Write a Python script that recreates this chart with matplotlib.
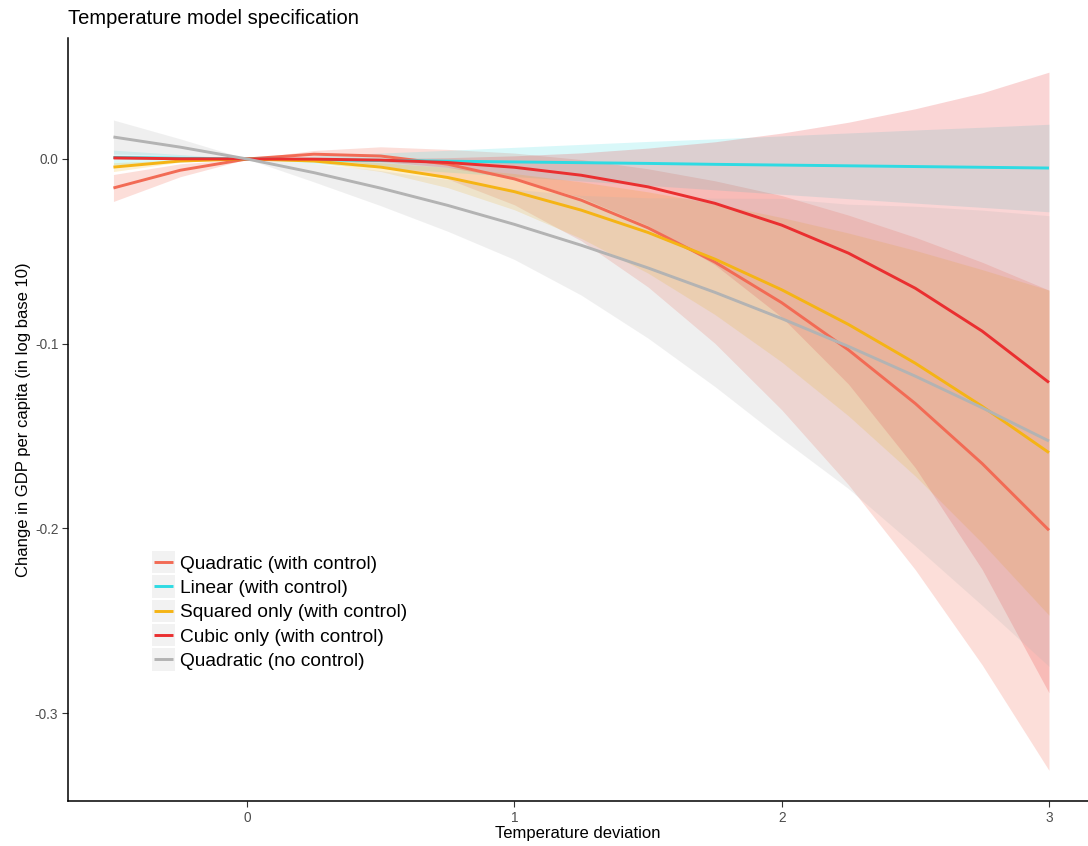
import matplotlib
matplotlib.use("Agg")
import matplotlib.pyplot as plt
from matplotlib.legend_handler import HandlerBase
from matplotlib.patches import Rectangle
from matplotlib.lines import Line2D
import numpy as np

plt.rcParams['font.family'] = ['Liberation Sans', 'DejaVu Sans']

x = [-0.5, -0.25, 0, 0.25, 0.5, 0.75, 1, 1.25, 1.5, 1.75, 2, 2.25, 2.5, 2.75, 3]

quad_ctrl = [-0.0157, -0.0061, 0, 0.0026, 0.0016, -0.0028, -0.0108, -0.0223, -0.0373,
             -0.0558, -0.0778, -0.1034, -0.1324, -0.1649, -0.201]
quad_ctrl_se = [0.0073, 0.0035, 0, 0.002, 0.005, 0.008, 0.014, 0.022, 0.032, 0.044,
                0.058, 0.073, 0.09, 0.109, 0.13]

linear = [0.0008, 0.0004, 0, -0.0004, -0.0008, -0.0012, -0.0016, -0.002, -0.0024,
          -0.0029, -0.0033, -0.0037, -0.0041, -0.0045, -0.0049]
linear_se = [0.004, 0.002, 0, 0.002, 0.004, 0.0059, 0.0079, 0.0099, 0.0119, 0.0138,
             0.0158, 0.0178, 0.0198, 0.0217, 0.0237]

squared = [-0.0044, -0.0011, 0, -0.0011, -0.0044, -0.0100, -0.0177, -0.0277, -0.0398,
           -0.0542, -0.0708, -0.0896, -0.1106, -0.1339, -0.159]
squared_se = [0.0024, 0.0006, 0, 0.0006, 0.0024, 0.0055, 0.0098, 0.0153, 0.022, 0.030,
              0.0391, 0.0495, 0.0611, 0.074, 0.088]

cubic = [0.0006, 0.0001, 0, -0.0001, -0.0006, -0.0019, -0.0045, -0.0088, -0.0151,
         -0.0240, -0.0358, -0.0510, -0.0700, -0.0932, -0.121]
cubic_se = [0.0008, 0.0001, 0, 0.0001, 0.0008, 0.0026, 0.0062, 0.0121, 0.021, 0.0333,
            0.0498, 0.0709, 0.0972, 0.129, 0.168]

quad_noctrl = [0.0119, 0.0064, 0, -0.0074, -0.0158, -0.0251, -0.0354, -0.0467, -0.0590,
               -0.0722, -0.0864, -0.1015, -0.1176, -0.1347, -0.1527]
quad_noctrl_se = [0.0092, 0.0045, 0, 0.005, 0.0095, 0.014, 0.019, 0.027, 0.038, 0.051,
                  0.065, 0.077, 0.092, 0.107, 0.122]

labels = ["Quadratic (with control)", "Linear (with control)", "Squared only (with control)",
          "Cubic only (with control)", "Quadratic (no control)"]
colors = ["#F26B55", "#2EDBE3", "#F5B415", "#EA2F30", "#B3B3B3"]
series = [quad_ctrl, linear, squared, cubic, quad_noctrl]
ses = [quad_ctrl_se, linear_se, squared_se, cubic_se, quad_noctrl_se]
fill_alpha = [0.22, 0.18, 0.2, 0.2, 0.2]

fig = plt.figure(figsize=(10.88, 8.46), dpi=100)
ax = fig.add_axes([68/1088, 45/846, 1020/1088, 763/846])

xa = np.array(x)
for s, e, c, a in zip(series, ses, colors, fill_alpha):
    s = np.array(s); e = np.array(e)
    ax.fill_between(xa, s - e, s + e, color=c, alpha=a, linewidth=0)

handles = []
for s, c, lab in zip(series, colors, labels):
    ln, = ax.plot(xa, s, color=c, lw=2.1, label=lab, solid_capstyle='butt')
    handles.append(ln)

ax.set_xlim(-0.67, 3.146)
ax.set_ylim(-0.3476, 0.0655)
ax.set_xticks([0, 1, 2, 3])
ax.set_xticklabels(["0", "1", "2", "3"])
ax.set_yticks([0.0, -0.1, -0.2, -0.3])
ax.set_yticklabels(["0.0", "-0.1", "-0.2", "-0.3"])
for sp in ['top', 'right']:
    ax.spines[sp].set_visible(False)
for sp in ['left', 'bottom']:
    ax.spines[sp].set_color('black')
    ax.spines[sp].set_linewidth(1.1)
ax.tick_params(axis='both', colors='#333333', labelcolor='#4D4D4D', labelsize=9.8,
               length=4, width=0.8, pad=3)
ax.set_xlabel("Temperature deviation", fontsize=12, color='black', labelpad=1)
ax.set_ylabel("Change in GDP per capita (in log base 10)", fontsize=12, color='black', labelpad=3)
fig.text(68/1088, 1 - 18/846, "Temperature model specification", fontsize=14.5,
         ha='left', va='center', color='black')


class KeyHandler(HandlerBase):
    def create_artists(self, legend, orig_handle, xdescent, ydescent, width, height,
                       fontsize, trans):
        pad = legend.labelspacing * fontsize / 2.0
        rect = Rectangle((-xdescent, -ydescent - pad), width, height + 2 * pad,
                         facecolor='#F2F2F2', edgecolor='none', transform=trans)
        cy = -ydescent + height / 2.0
        line = Line2D([-xdescent + 0.1 * width, -xdescent + 0.9 * width], [cy, cy],
                      color=orig_handle.get_color(), lw=2.1, transform=trans,
                      solid_capstyle='butt')
        return [rect, line]


leg = ax.legend(handles=handles, labels=labels, loc='lower left',
                bbox_to_anchor=(84/1020, 131/763), frameon=False, fontsize=13.8,
                handlelength=1.2, handleheight=1.0, labelspacing=0.27,
                handletextpad=0.25, borderpad=0, borderaxespad=0,
                handler_map={Line2D: KeyHandler()})

fig.savefig("out.png", dpi=100)
